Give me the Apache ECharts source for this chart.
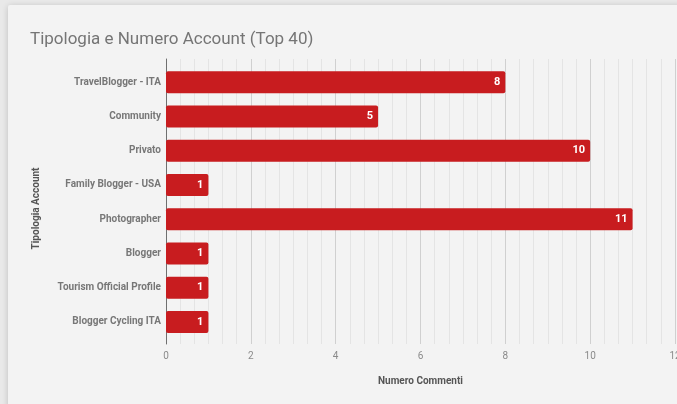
<!DOCTYPE html>
<html>
<head>
<meta charset="utf-8">
<script src="https://cdn.jsdelivr.net/npm/echarts@6/dist/echarts.min.js"></script>
<style>
  html, body { margin: 0; padding: 0; background: #e9e9e9; }
  #chart { width: 677px; height: 404px; }
</style>
</head>
<body>
<div id="chart"></div>
<script>
// Account types and number of comments per type
const categories = [
  'TravelBlogger - ITA',
  'Community',
  'Privato',
  'Family Blogger - USA',
  'Photographer',
  'Blogger',
  'Tourism Official Profile',
  'Blogger Cycling ITA'
];
const comments = [8, 5, 10, 1, 11, 1, 1, 1];
const xTicks = [0, 2, 4, 6, 8, 10, 12];

const chart = echarts.init(document.getElementById('chart'), null, { renderer: 'canvas' });

const labelFont = 'Roboto, "Noto Sans", sans-serif';
const xMin = xTicks[0];
const xMax = xTicks[xTicks.length - 1];
const xStep = xTicks[1] - xTicks[0];

chart.setOption({
  backgroundColor: 'transparent',
  animation: false,
  graphic: [{
    type: 'rect',
    z: -10,
    shape: { x: 8, y: 5, width: 690, height: 420, r: 2 },
    style: {
      fill: '#f3f3f3',
      shadowBlur: 6,
      shadowColor: 'rgba(0,0,0,0.18)',
      shadowOffsetX: 0,
      shadowOffsetY: 1
    }
  }],
  title: {
    text: 'Tipologia e Numero Account (Top 40)',
    left: 25,
    top: 26,
    textStyle: {
      fontFamily: labelFont,
      fontSize: 17,
      fontWeight: 'normal',
      color: '#757575'
    }
  },
  grid: [
    // bars and category labels
    { left: 166, right: 2, top: 65, height: 274, containLabel: false, outerBoundsMode: 'none' },
    // background lines, axis line and value labels
    { left: 166, right: 2, top: 59, height: 285, containLabel: false, outerBoundsMode: 'none' }
  ],
  xAxis: [
    {
      gridIndex: 0, type: 'value', min: xMin, max: xMax, interval: xStep,
      show: false
    },
    {
      gridIndex: 1, type: 'value', min: xMin, max: xMax, interval: xStep,
      name: 'Numero Commenti',
      nameLocation: 'middle',
      nameGap: 32,
      nameTextStyle: { fontFamily: labelFont, fontSize: 10, fontWeight: 'bold', color: '#555' },
      axisLine: { show: false },
      axisTick: { show: false },
      axisLabel: { fontFamily: labelFont, fontSize: 10, color: '#8a8a8a', margin: 7 },
      splitLine: { show: true, lineStyle: { color: '#d0d0d0', width: 1 } },
      minorTick: { show: false, splitNumber: 6 },
      minorSplitLine: { show: true, lineStyle: { color: '#e4e4e4', width: 1 } }
    }
  ],
  yAxis: [
    {
      gridIndex: 0, type: 'category', data: categories, inverse: true,
      axisLine: { show: false },
      axisTick: { show: false },
      splitLine: { show: false },
      axisLabel: {
        fontFamily: labelFont, fontSize: 10, fontWeight: 'bold', color: '#777', margin: 5
      }
    },
    {
      gridIndex: 1, type: 'value', min: 0, max: 1,
      name: 'Tipologia Account',
      nameLocation: 'middle',
      nameGap: 125,
      nameRotate: 90,
      nameTextStyle: {
        fontFamily: labelFont, fontSize: 10, fontWeight: 'bold', color: '#555',
        padding: [0, 14, 0, 0]
      },
      axisLine: { show: true, lineStyle: { color: '#6f6f6f', width: 1 } },
      axisTick: { show: false },
      axisLabel: { show: false },
      splitLine: { show: false }
    }
  ],
  series: [{
    type: 'bar',
    xAxisIndex: 0,
    yAxisIndex: 0,
    data: comments,
    barWidth: 22,
    itemStyle: { color: '#c81c1f', borderRadius: 2 },
    label: {
      show: true,
      position: 'insideRight',
      distance: 5,
      fontFamily: labelFont,
      fontSize: 11,
      fontWeight: 'bold',
      color: '#ffffff'
    }
  }]
});
</script>
</body>
</html>
